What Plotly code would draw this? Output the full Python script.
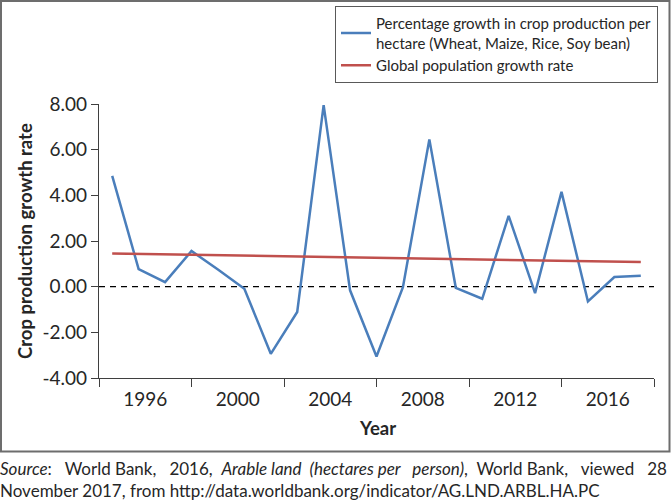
import plotly.graph_objects as go

point_index = list(range(21))
crop_growth = [4.85, 0.77, 0.20, 1.56, 0.75, -0.09, -2.94, -1.11, 7.95, -0.16, -3.06,
               -0.02, 6.45, -0.05, -0.53, 3.10, -0.28, 4.15, -0.65, 0.42, 0.48]
pop_growth = [1.45, 1.43, 1.41, 1.39, 1.37, 1.36, 1.34, 1.32, 1.30, 1.28, 1.26,
              1.24, 1.23, 1.21, 1.19, 1.17, 1.15, 1.13, 1.12, 1.10, 1.08]
tick_labels = ["1996", "2000", "2004", "2008", "2012", "2016"]
label_pos = [1.25, 4.75, 8.25, 11.75, 15.25, 18.75]
tick_marks = [-0.5, 3.0, 6.5, 10.0, 13.5, 17.0, 20.5]
y_ticks = [-4, -2, 0, 2, 4, 6, 8]

FONT = "Lato"
AX = "#3f3f3f"
TXT = "#262626"

fig = go.Figure()
fig.add_trace(go.Scatter(
    x=point_index, y=crop_growth, mode="lines",
    name="Percentage growth in crop production per<br>hectare (Wheat, Maize, Rice, Soy bean)",
    line=dict(color="#4a7ebb", width=2.5)))
fig.add_trace(go.Scatter(
    x=point_index, y=pop_growth, mode="lines",
    name="Global population growth rate",
    line=dict(color="#c0504d", width=2.5)))

W, H = 671, 501
L, R, T, B = 99, 17, 104, 123
pw, ph = W - L - R, H - T - B

def px(x):
    return (x - L) / pw

def py(y):
    return (H - B - y) / ph

S = "&nbsp; "
S2 = "&nbsp;&nbsp; "
source_text = ("<i>Source</i>:" + S2 + "World Bank," + S2 + "2016," + S + "<i>Arable land" + S +
               "(hectares per" + S2 + "person)</i>," + S + "World Bank," + S2 + "viewed" + S2 + "28"
               "<br>November 2017, from http://data.worldbank.org/indicator/AG.LND.ARBL.HA.PC")

fig.update_layout(
    width=W, height=H,
    margin=dict(l=L, r=R, t=T, b=B, pad=0, autoexpand=False),
    paper_bgcolor="white", plot_bgcolor="white",
    font=dict(family=FONT, color=TXT),
    showlegend=True,
    legend=dict(
        xref="container", yref="container",
        x=658 / W, y=1 - 6 / H, xanchor="right", yanchor="top",
        bordercolor="#595959", borderwidth=1, bgcolor="white",
        font=dict(family=FONT, size=15, color=TXT),
        tracegroupgap=1,
    ),
    xaxis=dict(
        range=[-0.5, 20.5], showgrid=False, zeroline=False,
        showline=True, linecolor=AX, linewidth=1.3,
        tickmode="array", tickvals=label_pos, ticktext=tick_labels,
        ticks="outside", ticklen=4, tickcolor="rgba(0,0,0,0)",
        tickfont=dict(family=FONT, size=19, color=TXT),
        minor=dict(tickmode="array", tickvals=tick_marks, ticks="outside",
                   ticklen=8, tickwidth=1.3, tickcolor=AX, showgrid=False),
    ),
    yaxis=dict(
        range=[-4, 8], showgrid=False, zeroline=False,
        showline=True, linecolor=AX, linewidth=1.3,
        tickmode="array", tickvals=y_ticks,
        ticktext=[f"{v:.2f}" for v in y_ticks],
        ticks="outside", ticklen=7, tickwidth=1.3, tickcolor=AX,
        tickfont=dict(family=FONT, size=19, color=TXT),
    ),
    shapes=[dict(type="rect", xref="paper", yref="paper",
                 x0=px(1), x1=px(669.5), y0=py(451.5), y1=py(1),
                 line=dict(color="#6d6d6d", width=2, dash="solid"), layer="below")],
    annotations=[
        dict(text="<b>Crop production growth rate</b>", xref="paper", yref="paper",
             x=px(25), y=py(241), xanchor="center", yanchor="middle",
             textangle=-90, showarrow=False,
             font=dict(family=FONT, size=18.5, color=TXT)),
        dict(text="<b>Year</b>", xref="paper", yref="paper",
             x=px(377), y=py(428), xanchor="center", yanchor="middle", showarrow=False,
             font=dict(family=FONT, size=18.5, color=TXT)),
        dict(text=source_text,
             xref="paper", yref="paper", x=px(-1), y=py(479.5), xanchor="left", yanchor="middle",
             align="left", showarrow=False, borderpad=0,
             font=dict(family=FONT, size=17, color=TXT)),
    ],
)

fig.add_hline(y=0, line=dict(color="#000000", width=1.3, dash="6px,5px"), layer="below")

fig.write_html("out.html", config={"displayModeBar": False},
               post_script="document.body.style.margin='0';document.body.style.padding='0';")
